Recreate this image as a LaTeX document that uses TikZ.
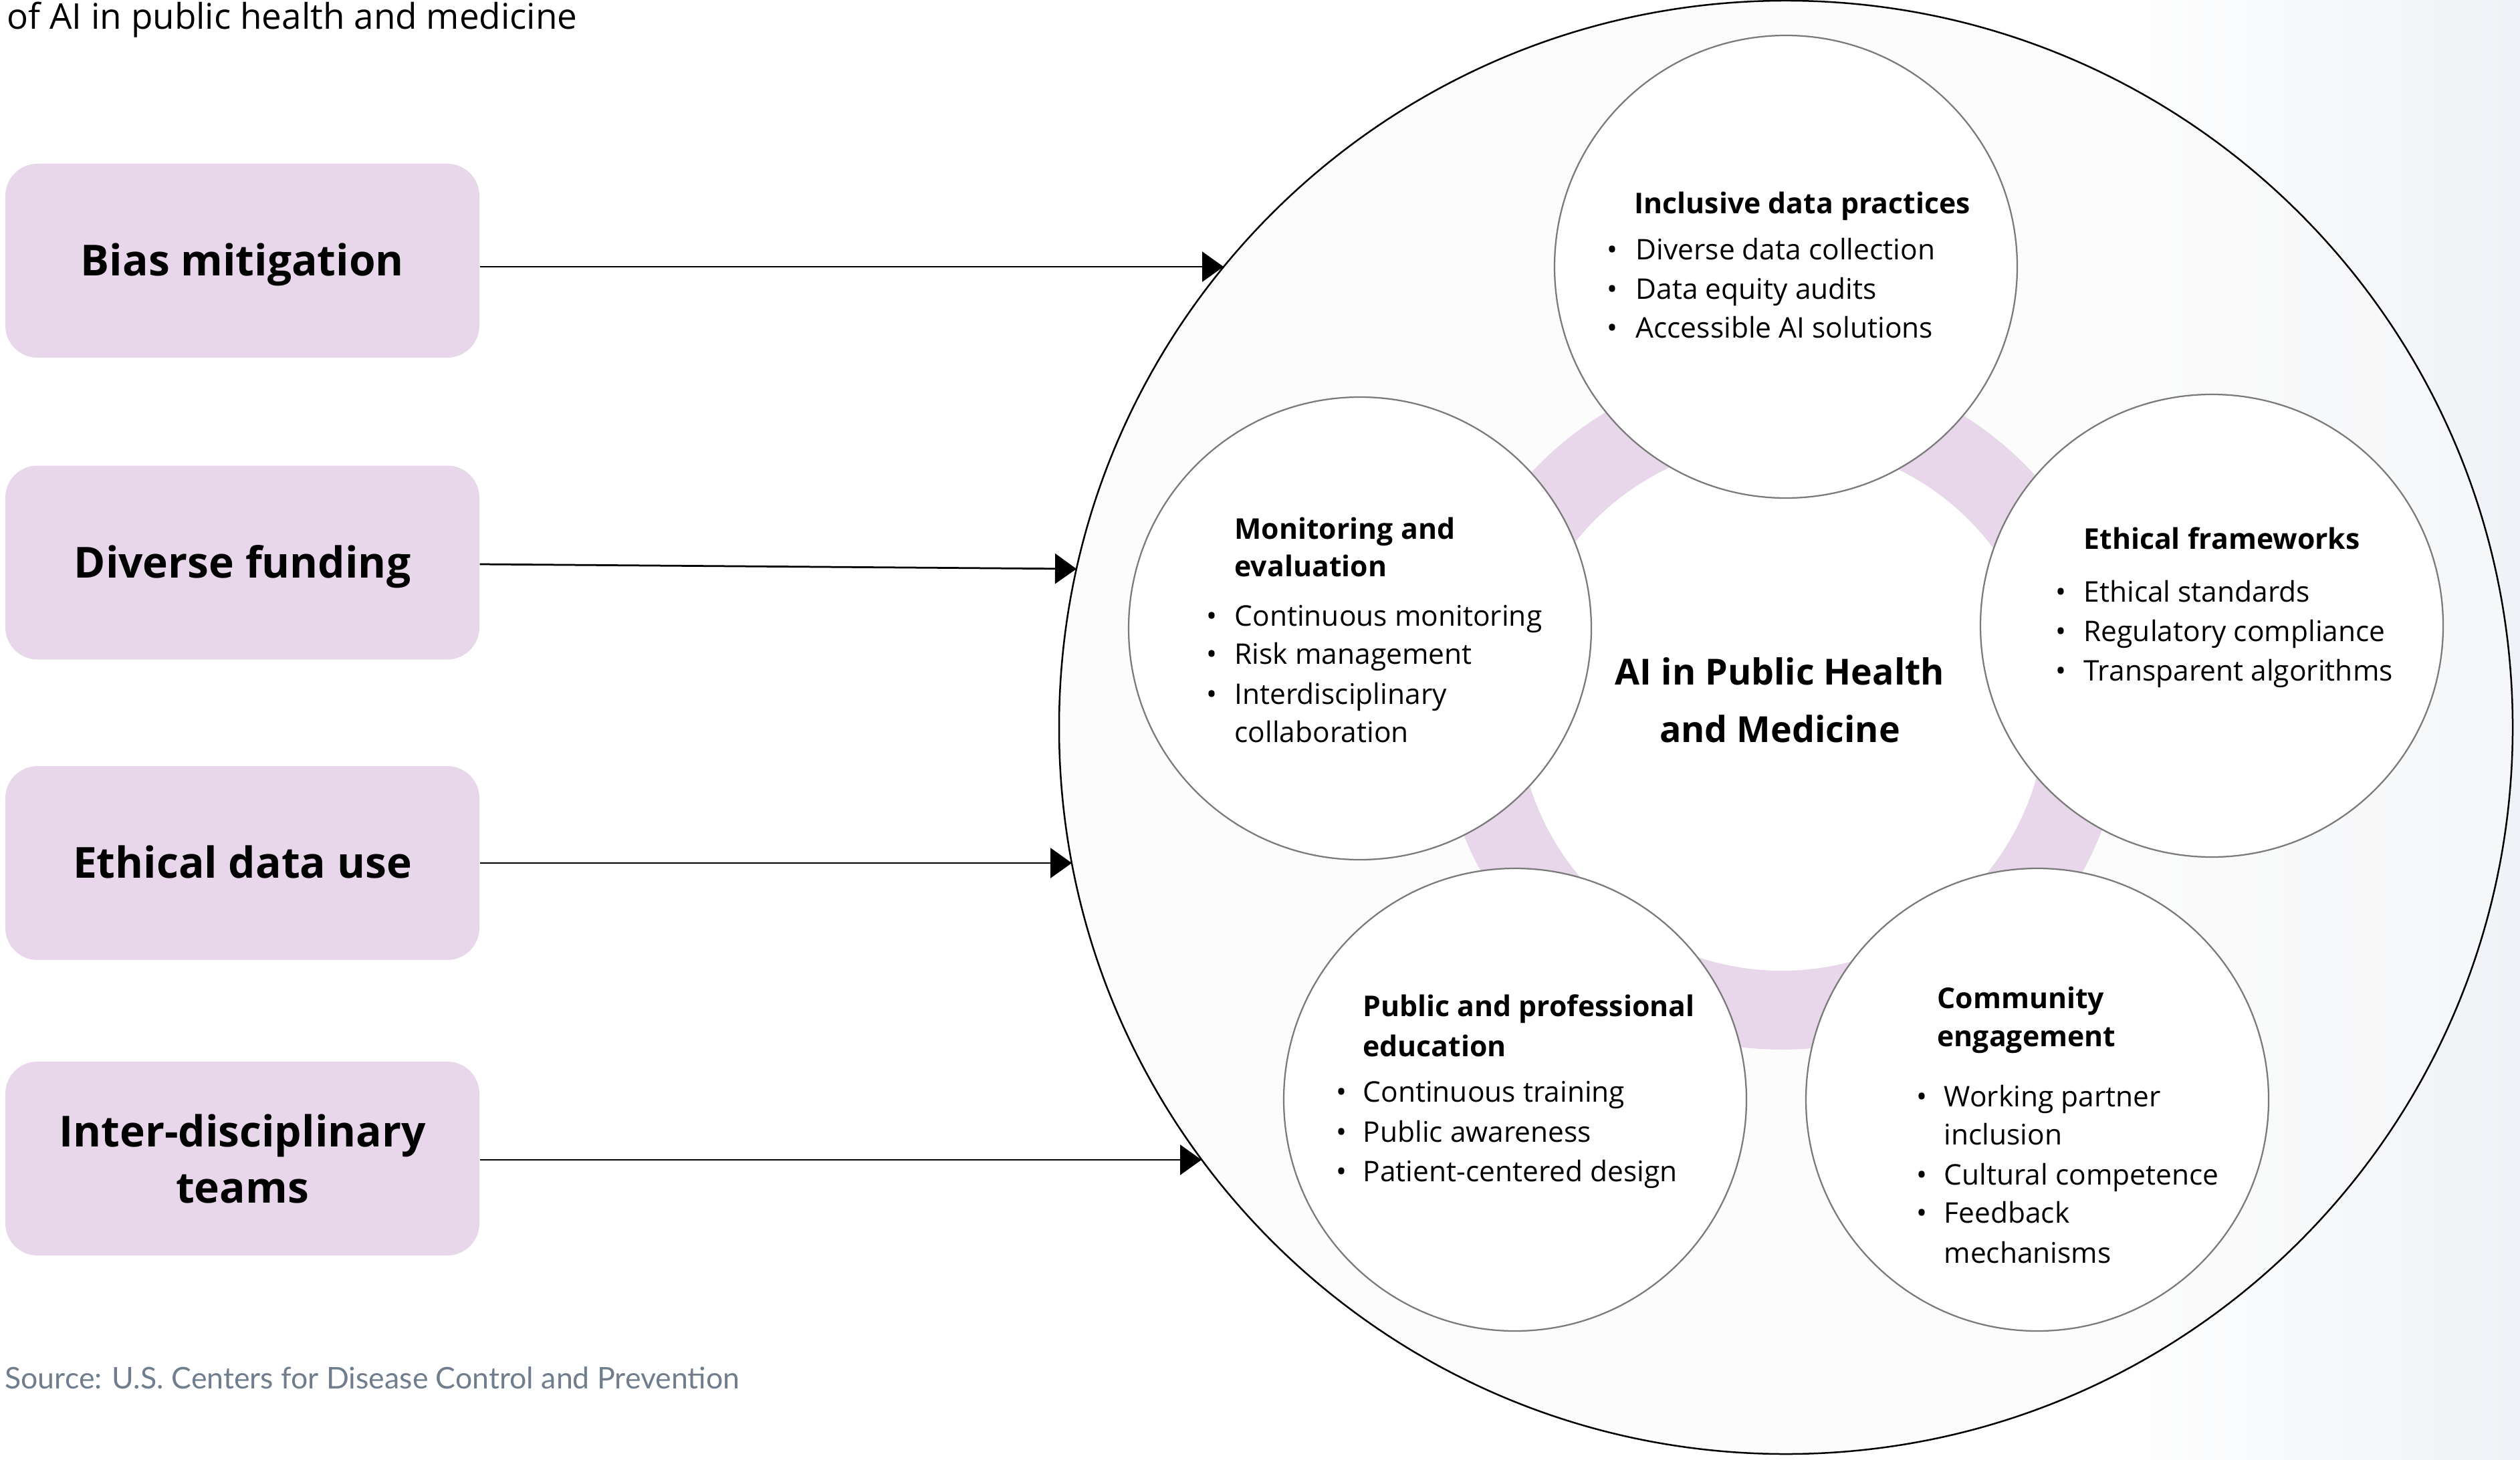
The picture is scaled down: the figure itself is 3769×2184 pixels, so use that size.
\documentclass[tikz,border=0pt]{standalone}
\usepackage{fontspec}
\setmainfont{Open Sans}
\newfontfamily\srcfont{Lato}
\usetikzlibrary{arrows.meta,calc}
\definecolor{lilac}{HTML}{E8D6EA}
\definecolor{ringgray}{HTML}{7A7A7A}
\definecolor{srcgray}{HTML}{6F7D8C}
\definecolor{tint}{HTML}{EFF2F6}
\definecolor{bigfill}{HTML}{FAFAFA}
\begin{document}
\begin{tikzpicture}[x=0.4pt,y=-0.4pt,
  box/.style={fill=lilac, rounded corners=19.2pt, minimum width=283.6pt, minimum height=116pt, inner sep=0pt, align=center, font=\fontsize{25.6}{33.6}\selectfont\bfseries},
  oneline/.style={text height=18.3pt, text depth=0pt},
  topic/.style={circle, draw=ringgray, line width=0.9pt, fill=white, minimum size=276.8pt, inner sep=0pt},
  ttl/.style={anchor=base west, inner sep=0pt, font=\fontsize{17.1}{22}\selectfont\bfseries},
  itm/.style={anchor=base west, inner sep=0pt, font=\fontsize{17}{22}\selectfont},
  bul/.style={anchor=base, inner sep=0pt, font=\fontsize{17}{22}\selectfont},
  core/.style={anchor=base, inner sep=0pt, font=\fontsize{21.5}{30}\selectfont\bfseries},
  arr/.style={line width=1.1pt, -{Triangle[length=12.8pt,width=18pt]}}
]
\useasboundingbox (0,0) rectangle (3769,2184);
% faint background tint on the right
\shade[left color=white, right color=tint] (3150,0) rectangle (3769,2184);

% title fragment at top
\node[anchor=base west, inner sep=0pt, font=\fontsize{21.2}{24}\selectfont] (head) at (10,44) {of AI in public health and medicine};

% big circle
\node[circle, draw=black, line width=1pt, fill=bigfill, fill opacity=0.6, minimum size=869.6pt, inner sep=0pt] (outer) at (2671,1088) {};

% ring
\fill[lilac] (2665,1057) circle[radius=205.2pt];
\fill[white] (2665,1057) circle[radius=158pt];
\node[core] (core1) at (2662,1024) {AI in Public Health};
\node[core] (core2) at (2662,1110) {and Medicine};

% topic circles
\node[topic] (c1) at (2671,399) {};
\node[topic] (c2) at (3308,936) {};
\node[topic] (c3) at (2034,940) {};
\node[topic] (c4) at (2266,1645) {};
\node[topic] (c5) at (3047,1645) {};

% Inclusive data practices
\node[ttl] (c1t) at (2444,320) {Inclusive data practices};
\node[bul] (c1b1) at (2411,389) {•};
\node[itm] (c1i1) at (2446,389) {Diverse data collection};
\node[bul] (c1b2) at (2411,448) {•};
\node[itm] (c1i2) at (2446,448) {Data equity audits};
\node[bul] (c1b3) at (2411,506) {•};
\node[itm] (c1i3) at (2446,506) {Accessible AI solutions};

% Ethical frameworks
\node[ttl] (c2t) at (3116,821) {Ethical frameworks};
\node[bul] (c2b1) at (3082,900) {•};
\node[itm] (c2i1) at (3116,900) {Ethical standards};
\node[bul] (c2b2) at (3082,959) {•};
\node[itm] (c2i2) at (3116,959) {Regulatory compliance};
\node[bul] (c2b3) at (3082,1018) {•};
\node[itm] (c2i3) at (3116,1018) {Transparent algorithms};

% Monitoring and evaluation
\node[ttl] (c3t1) at (1846,806) {Monitoring and};
\node[ttl] (c3t2) at (1846,862) {evaluation};
\node[bul] (c3b1) at (1812,936) {•};
\node[itm] (c3i1) at (1846,936) {Continuous monitoring};
\node[bul] (c3b2) at (1812,993) {•};
\node[itm] (c3i2) at (1846,993) {Risk management};
\node[bul] (c3b3) at (1812,1053) {•};
\node[itm] (c3i3) at (1846,1053) {Interdisciplinary};
\node[itm] (c3i4) at (1846,1110) {collaboration};

% Public and professional education
\node[ttl] (c4t1) at (2038,1520) {Public and professional};
\node[ttl] (c4t2) at (2038,1580) {education};
\node[bul] (c4b1) at (2006,1648) {•};
\node[itm] (c4i1) at (2038,1648) {Continuous training};
\node[bul] (c4b2) at (2006,1708) {•};
\node[itm] (c4i2) at (2038,1708) {Public awareness};
\node[bul] (c4b3) at (2006,1767) {•};
\node[itm] (c4i3) at (2038,1767) {Patient-centered design};

% Community engagement
\node[ttl] (c5t1) at (2897,1508) {Community};
\node[ttl] (c5t2) at (2897,1565) {engagement};
\node[bul] (c5b1) at (2874,1655) {•};
\node[itm] (c5i1) at (2907,1655) {Working partner};
\node[itm] (c5i2) at (2907,1712) {inclusion};
\node[bul] (c5b2) at (2874,1772) {•};
\node[itm] (c5i3) at (2907,1772) {Cultural competence};
\node[bul] (c5b3) at (2874,1829) {•};
\node[itm] (c5i4) at (2907,1829) {Feedback};
\node[itm] (c5i5) at (2907,1889) {mechanisms};

% left boxes
\node[box, oneline] (b1) at (362.5,390) {Bias mitigation};
\node[box, oneline] (b2) at (362.5,841.5) {Diverse funding};
\node[box, oneline] (b3) at (362.5,1291) {Ethical data use};
\node[box] (b4) at (362.5,1733) {Inter-disciplinary\\teams};

% arrow end points on the big circle
\coordinate (e1) at ($(outer.center)+(-841,-689)$);
\coordinate (e2) at ($(outer.center)+(-1061,-237)$);
\coordinate (e3) at ($(outer.center)+(-1068,203)$);
\coordinate (e4) at ($(outer.center)+(-874,647)$);

% arrows
\draw[arr] ($(b1.east)+(0,9)$) -- (e1);
\draw[arr] ($(b2.east)+(0,2.5)$) -- (e2);
\draw[arr] (b3.east) -- (e3);
\draw[arr] ($(b4.east)+(0,2)$) -- (e4);

% source
\node[anchor=base west, inner sep=0pt, text=srcgray, font=\srcfont\fontsize{17.85}{20}\selectfont] (src) at (7,2077) {Source: U.S. Centers for Disease Control and Prevention};
\end{tikzpicture}
\end{document}
